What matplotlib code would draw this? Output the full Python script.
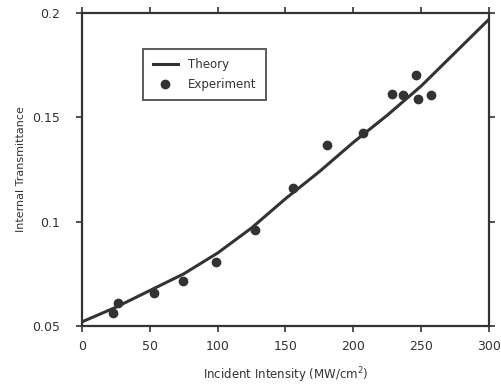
import matplotlib.pyplot as plt

# theory curve
theory_x = [0, 25, 50, 75, 100, 125, 150, 175, 200, 225, 250, 275, 300]
theory_y = [0.052, 0.059, 0.067, 0.075, 0.085, 0.097, 0.111, 0.124,
            0.138, 0.151, 0.165, 0.181, 0.197]

# measured points
exp_x = [22.6, 26.8, 53.1, 74.2, 98.5, 127.5, 155.7, 180.4, 207.3,
         228.3, 236.8, 246.0, 247.9, 257.2]
exp_y = [0.0564, 0.0612, 0.0657, 0.0716, 0.0808, 0.096, 0.116, 0.1367,
         0.1423, 0.161, 0.1607, 0.1703, 0.1588, 0.1607]

xticks = [0, 50, 100, 150, 200, 250, 300]
yticks = [0.05, 0.1, 0.15, 0.2]
ytick_labels = ['0.05', '0.1', '0.15', '0.2']

ink = '#333333'

fig = plt.figure(figsize=(5.01, 3.86), dpi=100)
ax = fig.add_axes([0.1637, 0.1554, 0.8123, 0.8109])

ax.plot(theory_x, theory_y, color=ink, lw=2.2, label='Theory')
ax.plot(exp_x, exp_y, 'o', color=ink, ms=6, label='Experiment')

ax.set_xlim(0, 300)
ax.set_ylim(0.05, 0.2)
ax.set_xticks(xticks)
ax.set_yticks(yticks)
ax.set_yticklabels(ytick_labels)
ax.tick_params(colors=ink, labelsize=9, width=1.2, length=4, direction='out',
               top=True, right=True)
ax.tick_params(axis='x', pad=6)
ax.tick_params(axis='y', pad=12)
for s in ax.spines.values():
    s.set_linewidth(1.6)
    s.set_color(ink)

ax.set_xlabel('Incident Intensity (MW/cm$^2$)', fontsize=8.5, color=ink, labelpad=9)
ax.set_ylabel('Internal Transmittance', fontsize=8, color=ink, labelpad=4)

leg = ax.legend(loc='upper left', bbox_to_anchor=(0.15, 0.885), fontsize=8.5,
                frameon=True, fancybox=False, handlelength=2.2,
                borderpad=0.8, labelspacing=0.55, borderaxespad=0)
leg.get_frame().set_edgecolor(ink)
leg.get_frame().set_linewidth(1.4)
for t in leg.get_texts():
    t.set_color(ink)

fig.savefig('out.png', dpi=100)
